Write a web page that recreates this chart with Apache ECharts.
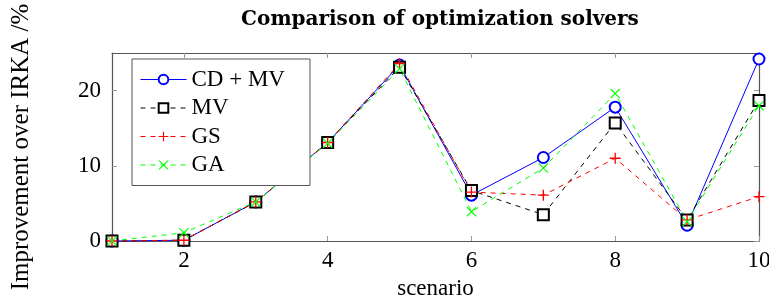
<!DOCTYPE html>
<html>
<head>
<meta charset="utf-8">
<script src="https://cdn.jsdelivr.net/npm/echarts@6/dist/echarts.min.js"></script>
<style>
  html, body { margin: 0; padding: 0; background: #fff; }
  #chart { width: 769px; height: 298px; }
</style>
</head>
<body>
<div id="chart"></div>
<script>
// values
const scenarios = [1, 2, 3, 4, 5, 6, 7, 8, 9, 10];
const cdMv = [0, 0.1, 5.2, 13.1, 23.4, 6.1, 11.1, 17.8, 2.1, 24.2];
const mv   = [0, 0.1, 5.2, 13.1, 23.1, 6.7, 3.5, 15.7, 2.8, 18.7];
const gs   = [0, 0.1, 5.2, 13.1, 23.6, 6.5, 6.1, 11.0, 2.8, 5.9];
const ga   = [0, 1.1, 5.2, 13.0, 22.9, 3.9, 9.7, 19.6, 2.6, 18.0];
const xTicks = [2, 4, 6, 8, 10];
const yTicks = [0, 10, 20];

const font = "Liberation Serif";
const plusPath = "path://M0,4.4H10V5.6H0Z M4.4,0H5.6V10H4.4Z";
const crossPath = "path://M0,0.8L0.8,0L10,9.2L9.2,10Z M9.2,0L10,0.8L0.8,10L0,9.2Z";

const pairs = (ys) => scenarios.map((x, i) => [x, ys[i]]);

const chart = echarts.init(document.getElementById("chart"));

const tickCommon = {
  show: true, inside: true, length: 5,
  lineStyle: { color: "#999", width: 1 }
};
const lineCommon = { show: true, onZero: false, lineStyle: { color: "#555", width: 1.2 } };

chart.setOption({
  animation: false,
  backgroundColor: "#fff",
  textStyle: { fontFamily: font },
  title: {
    text: "Comparison of optimization solvers",
    left: 435, top: 5, textAlign: "center",
    textStyle: { fontFamily: "DejaVu Serif", fontWeight: "bold", fontSize: 20, color: "#000" }
  },
  grid: { left: 112, right: 10, top: 53, bottom: 57, outerBoundsMode: "none", containLabel: false },
  legend: {
    orient: "vertical",
    left: 132, top: 59,
    padding: [9, 25, 9, 8],
    itemWidth: 46, itemHeight: 12, itemGap: 5.5,
    backgroundColor: "#fff",
    borderColor: "#555", borderWidth: 1, borderRadius: 0,
    lineStyle: { width: 1 },
    textStyle: { fontFamily: font, fontSize: 23, color: "#000" },
    data: ["CD + MV", "MV", "GS", "GA"]
  },
  xAxis: [
    {
      type: "value", position: "bottom", min: 1, max: 10,
      name: "scenario", nameLocation: "middle", nameGap: 36,
      nameTextStyle: { fontFamily: font, fontSize: 23, color: "#000" },
      axisLine: lineCommon,
      axisTick: Object.assign({ customValues: xTicks }, tickCommon),
      axisLabel: { customValues: xTicks, fontFamily: font, fontSize: 23, color: "#000", margin: 8 },
      splitLine: { show: false }
    },
    {
      type: "value", position: "top", min: 1, max: 10,
      axisLine: lineCommon,
      axisTick: Object.assign({ customValues: xTicks }, tickCommon),
      axisLabel: { show: false },
      splitLine: { show: false }
    }
  ],
  yAxis: [
    {
      type: "value", position: "left", min: 0, max: 25,
      name: "Improvement over IRKA /%", nameLocation: "middle", nameGap: 78, nameRotate: 90,
      nameTextStyle: { fontFamily: font, fontSize: 25, color: "#000" },
      axisLine: lineCommon,
      axisTick: Object.assign({ customValues: yTicks }, tickCommon),
      axisLabel: { customValues: yTicks, fontFamily: font, fontSize: 23, color: "#000", margin: 11 },
      splitLine: { show: false }
    },
    {
      type: "value", position: "right", min: 0, max: 25,
      axisLine: lineCommon,
      axisTick: Object.assign({ customValues: yTicks }, tickCommon),
      axisLabel: { show: false },
      splitLine: { show: false }
    }
  ],
  series: [
    {
      name: "CD + MV", type: "line", data: pairs(cdMv), clip: false,
      symbol: "emptyCircle", symbolSize: 11,
      lineStyle: { color: "#0000ff", width: 1 },
      itemStyle: { color: "#0000ff", borderColor: "#0000ff", borderWidth: 1 }
    },
    {
      name: "MV", type: "line", data: pairs(mv), clip: false,
      symbol: "emptyRect", symbolSize: 11,
      lineStyle: { color: "#000", width: 1, type: [5, 5] },
      itemStyle: { color: "#000", borderColor: "#000", borderWidth: 1 }
    },
    {
      name: "GS", type: "line", data: pairs(gs), clip: false,
      symbol: plusPath, symbolSize: 11,
      lineStyle: { color: "#ff0000", width: 1, type: [5, 5] },
      itemStyle: { color: "#ff0000", borderColor: "#ff0000", borderWidth: 0 }
    },
    {
      name: "GA", type: "line", data: pairs(ga), clip: false,
      symbol: crossPath, symbolSize: 10,
      lineStyle: { color: "#00ff00", width: 1, type: [5, 5] },
      itemStyle: { color: "#00ff00", borderColor: "#00ff00", borderWidth: 0 }
    }
  ]
});
</script>
</body>
</html>
